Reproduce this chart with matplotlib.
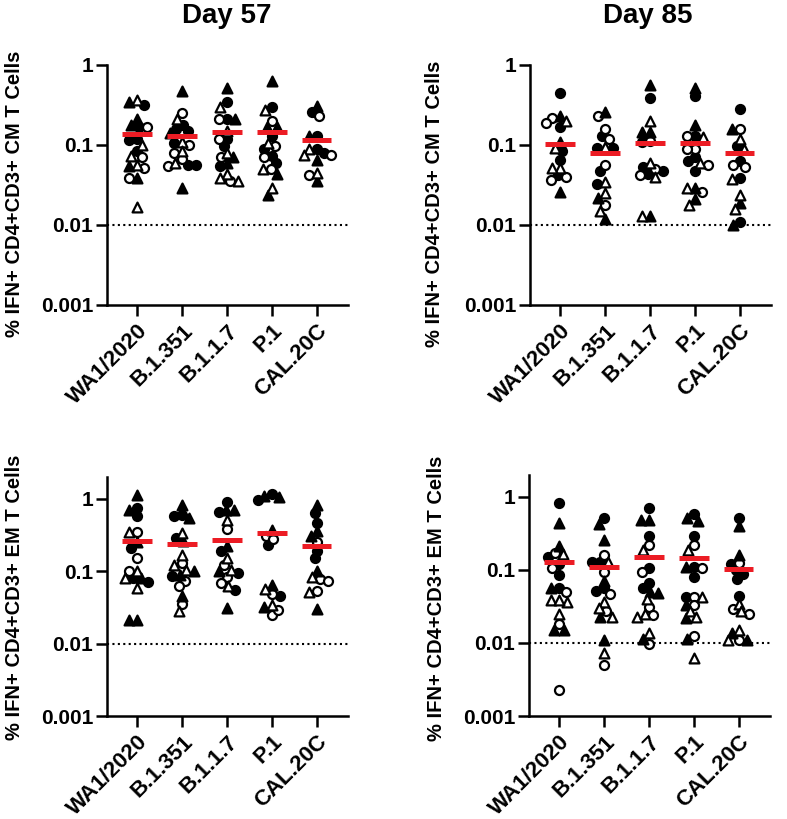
import numpy as np
import matplotlib
matplotlib.use('Agg')
import matplotlib.pyplot as plt

plt.rcParams['font.family'] = ['Liberation Sans', 'DejaVu Sans']
plt.rcParams['font.weight'] = 'bold'

variants = ['WA1/2020', 'B.1.351', 'B.1.1.7', 'P.1', 'CAL.20C']

# fc = filled circle, oc = open circle, ft = filled triangle, ot = open triangle
# one list per variant

# Day 57, central memory
cm57_fc = [[0.32, 0.17, 0.117, 0.12, 0.085],
           [0.18, 0.16, 0.15, 0.105, 0.057, 0.057],
           [0.34, 0.21, 0.12, 0.098, 0.055],
           [0.30, 0.13, 0.089, 0.073, 0.06],
           [0.26, 0.13, 0.08, 0.09]]
cm57_oc = [[0.17, 0.071, 0.052, 0.039],
           [0.25, 0.10, 0.08, 0.066, 0.055],
           [0.21, 0.12, 0.07, 0.035],
           [0.20, 0.098, 0.07, 0.05],
           [0.23, 0.076, 0.042]]
cm57_ft = [[0.34, 0.21, 0.18, 0.054, 0.039],
           [0.48, 0.14, 0.029],
           [0.52, 0.21, 0.07, 0.06],
           [0.63, 0.17, 0.17, 0.043, 0.024],
           [0.31, 0.13, 0.065, 0.035]]
cm57_ot = [[0.36, 0.10, 0.073, 0.057, 0.017],
           [0.21, 0.11, 0.085, 0.06],
           [0.30, 0.15, 0.08, 0.043, 0.035, 0.039],
           [0.27, 0.107, 0.05, 0.029],
           [0.09, 0.076, 0.045]]
cm57_med = [0.137, 0.13, 0.147, 0.147, 0.116]

# Day 85, central memory
cm85_fc = [[0.45, 0.17, 0.085, 0.065, 0.042],
           [0.13, 0.093, 0.093, 0.047, 0.033],
           [0.39, 0.11, 0.053, 0.048, 0.044],
           [0.41, 0.13, 0.071, 0.063, 0.048],
           [0.28, 0.098, 0.063, 0.039, 0.011]]
cm85_oc = [[0.22, 0.19, 0.037, 0.04],
           [0.23, 0.16, 0.12, 0.056, 0.018],
           [0.113, 0.05, 0.042],
           [0.13, 0.09, 0.088, 0.057, 0.026],
           [0.16, 0.057, 0.053]]
cm85_ft = [[0.23, 0.11, 0.026],
           [0.26, 0.022, 0.012],
           [0.56, 0.145, 0.145, 0.013],
           [0.52, 0.18, 0.029, 0.021],
           [0.16, 0.019, 0.010]]
cm85_ot = [[0.20, 0.093, 0.052, 0.052],
           [0.095, 0.034, 0.025, 0.015],
           [0.20, 0.06, 0.04, 0.013],
           [0.125, 0.06, 0.029, 0.018],
           [0.12, 0.09, 0.038, 0.024, 0.016]]
cm85_med = [0.103, 0.079, 0.105, 0.105, 0.08]

# Day 57, effector memory
em57_fc = [[0.74, 0.57, 0.21, 0.07, 0.081],
           [0.57, 0.60, 0.29, 0.085],
           [0.90, 0.65, 0.19, 0.095, 0.055],
           [0.95, 1.17, 0.23, 0.045],
           [0.64, 0.46, 0.19, 0.15]]
em57_oc = [[0.35, 0.15, 0.10],
           [0.13, 0.074, 0.063, 0.035],
           [0.38, 0.12, 0.082, 0.069],
           [0.31, 0.28, 0.049, 0.025, 0.029],
           [0.25, 0.078, 0.073, 0.053]]
em57_ft = [[1.14, 0.71, 0.25, 0.08, 0.021, 0.021],
           [0.82, 0.55, 0.26, 0.10, 0.09, 0.045],
           [0.71, 0.71, 0.22, 0.10, 0.031],
           [1.05, 1.10, 0.37, 0.065, 0.032],
           [0.81, 0.36, 0.31, 0.10, 0.03]]
em57_ot = [[0.35, 0.10, 0.08, 0.059],
           [0.34, 0.17, 0.12, 0.105, 0.028],
           [0.51, 0.15, 0.105, 0.062],
           [0.057, 0.034],
           [0.083, 0.052]]
em57_med = [0.26, 0.235, 0.27, 0.34, 0.22]

# Day 85, effector memory
em85_fc = [[0.82, 0.15, 0.12, 0.085, 0.056],
           [0.51, 0.13, 0.13, 0.056, 0.052],
           [0.70, 0.29, 0.107, 0.066, 0.056],
           [0.58, 0.29, 0.11, 0.081, 0.042],
           [0.51, 0.12, 0.10, 0.088, 0.075, 0.044]]
em85_oc = [[0.17, 0.106, 0.05, 0.018, 0.0023],
           [0.16, 0.095, 0.047, 0.027, 0.005],
           [0.22, 0.093, 0.031, 0.024, 0.0097],
           [0.22, 0.106, 0.043, 0.033, 0.0123],
           [0.125, 0.025, 0.029, 0.011]]
em85_ft = [[0.44, 0.21, 0.056, 0.015, 0.015],
           [0.42, 0.26, 0.071, 0.023, 0.011],
           [0.48, 0.48, 0.05, 0.048, 0.0115],
           [0.47, 0.51, 0.11, 0.033, 0.022, 0.0112],
           [0.40, 0.16, 0.0135, 0.011]]
em85_ot = [[0.165, 0.036, 0.039, 0.039, 0.025],
           [0.13, 0.036, 0.03, 0.023, 0.0072],
           [0.19, 0.04, 0.023, 0.025, 0.0136],
           [0.19, 0.042, 0.027, 0.023, 0.0062],
           [0.034, 0.027, 0.015, 0.011]]
em85_med = [0.13, 0.11, 0.15, 0.145, 0.103]

W, H = 787, 819
fig = plt.figure(figsize=(W / 100, H / 100), dpi=100)


def px_axes(left, top, right, bottom):
    return fig.add_axes([left / W, 1 - bottom / H, (right - left) / W, (bottom - top) / H])


def swarm(ax, xc, vals, diam=7.5, reach=14):
    # beeswarm in pixel space, top to bottom, overlap allowed past `reach`
    pts = ax.transData.transform(np.column_stack([np.full(len(vals), xc), vals]))
    order = np.argsort(-np.asarray(vals))
    offsets = sorted(range(-reach, reach + 1), key=lambda o: (abs(o), o))
    placed = []
    out = np.zeros_like(pts)
    for i in order:
        x0, y = pts[i]
        best, best_d = x0, -1
        for off in offsets:
            x = x0 + off
            d = min([np.hypot(x - px, y - py) for px, py in placed] + [99])
            if d >= diam:
                best = x
                break
            if d > best_d:
                best, best_d = x, d
        placed.append((best, y))
        out[i] = (best, y)
    return ax.transData.inverted().transform(out)[:, 0]


def panel(ax, fc, oc, ft, ot, med, ytop):
    ax.set_yscale('log')
    ax.set_xlim(-0.67, 4.7)
    ax.set_ylim(0.001, ytop)
    styles = [('o', 'black', 42), ('o', 'white', 42), ('^', 'black', 50), ('^', 'white', 50)]
    for g in range(len(variants)):
        vals, kinds = [], []
        for kind, data in enumerate([fc, oc, ft, ot]):
            vals += data[g]
            kinds += [kind] * len(data[g])
        vals = np.array(vals)
        kinds = np.array(kinds)
        xs = swarm(ax, g, vals)
        for kind, (m, face, size) in enumerate(styles):
            sel = kinds == kind
            ax.scatter(xs[sel], vals[sel], marker=m, s=size, facecolor=face,
                       edgecolor='black', linewidth=1.6, zorder=3)
        ax.plot([g - 0.33, g + 0.33], [med[g], med[g]], color='#ec1c24',
                lw=3.6, solid_capstyle='butt', zorder=4)
    ax.axhline(0.01, color='black', ls=(0, (1, 1.6)), lw=1.5, zorder=1)

    ax.set_xticks(range(len(variants)))
    ax.set_xticklabels(variants, rotation=45, ha='right', va='top',
                       rotation_mode='anchor', fontsize=16, fontweight='bold')
    ax.set_yticks([0.001, 0.01, 0.1, 1])
    ax.set_yticklabels(['0.001', '0.01', '0.1', '1'], fontsize=15, fontweight='bold')
    ax.yaxis.set_minor_locator(matplotlib.ticker.NullLocator())
    ax.tick_params(axis='both', direction='out', length=8, width=1.8, pad=2)
    ax.tick_params(axis='x', pad=3)
    for side in ['top', 'right']:
        ax.spines[side].set_visible(False)
    for side in ['left', 'bottom']:
        ax.spines[side].set_linewidth(1.8)


ax1 = px_axes(107, 65, 348, 305)
ax2 = px_axes(530, 65, 771, 305)
ax3 = px_axes(107, 477, 348, 716)
ax4 = px_axes(529, 475, 770, 716)

panel(ax1, cm57_fc, cm57_oc, cm57_ft, cm57_ot, cm57_med, 1)
panel(ax2, cm85_fc, cm85_oc, cm85_ft, cm85_ot, cm85_med, 1)
panel(ax3, em57_fc, em57_oc, em57_ft, em57_ot, em57_med, 2)
panel(ax4, em85_fc, em85_oc, em85_ft, em85_ot, em85_med, 2)

# y labels and titles placed in pixel positions
cm_label = '% IFN+ CD4+CD3+ CM T Cells'
em_label = '% IFN+ CD4+CD3+ EM T Cells'
for text, x, y in [(cm_label, 15, 194), (cm_label, 434, 204),
                   (em_label, 15, 597), (em_label, 436, 598)]:
    fig.text(x / W, 1 - y / H, text, rotation=90, ha='center', va='center',
             fontsize=14.5, fontweight='bold')

fig.text(227 / W, 1 - 16 / H, 'Day 57', ha='center', va='center', fontsize=20, fontweight='bold')
fig.text(648 / W, 1 - 16 / H, 'Day 85', ha='center', va='center', fontsize=20, fontweight='bold')

fig.savefig('out.png', dpi=100)
